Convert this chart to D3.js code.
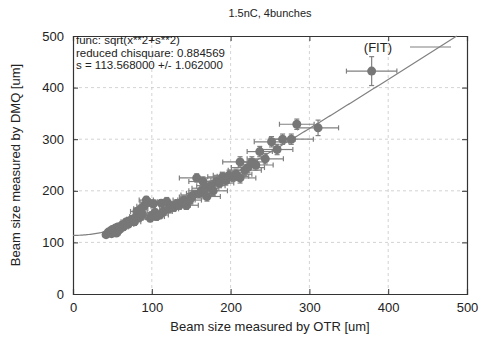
<!DOCTYPE html>
<html><head><meta charset="utf-8">
<script src="https://d3js.org/d3.v7.min.js"></script>
<style>body{margin:0;background:#fff}svg{display:block}text{font-family:"Liberation Sans",Arial,sans-serif;fill:#222}</style>
</head><body><svg id="c" width="481" height="340"></svg>
<script>
const title = "1.5nC, 4bunches";
const xLabel = "Beam size measured by OTR [um]";
const yLabel = "Beam size measured by DMQ [um]";
const statLines = ["func: sqrt(x**2+s**2)", "reduced chisquare: 0.884569", "s = 113.568000 +/- 1.062000"];
const legendLabel = "(FIT)";
const xTicks = [0,100,200,300,400,500];
const yTicks = [0,100,200,300,400,500];
const fitS = 113.568;
const otr    = [42,45,47,49,50,52,54,55,57,58,60,62,64,66,68,70,72,75,78,80,81,84,86,88,90,93,95,98,100,102,104,106,110,112,115,119,122,125,128,132,135,138,141,144,148,150,153,157,160,163,165,168,170,175,178,182,186,190,194,198,203,207,212,212,218,222,227,232,237,244,252,259,266,277,284,311,379];
const dmq    = [115,120,121,117,125,122,128,118,130,124,127,133,130,137,140,135,142,145,140,150,160,148,165,155,170,182,178,147,152,175,158,150,153,176,160,179,165,170,168,175,172,178,182,172,182,188,192,225,195,200,218,205,189,210,200,218,215,227,220,230,228,232,225,256,240,245,256,250,276,262,295,280,300,300,329,322,432];
const otrErr = [4,4,5,4,5,5,5,5,5,5,6,6,6,6,7,7,7,7,8,8,8,8,9,9,9,9,10,9,10,10,10,10,11,11,11,12,12,12,13,13,14,14,14,15,15,15,16,22,16,16,18,17,17,18,18,16,18,19,19,20,20,20,20,22,21,21,16,22,16,23,22,20,16,28,22,26,32];
const dmqErr = [5,5,5,5,5,5,5,5,6,6,6,6,6,6,6,6,6,7,7,7,7,7,7,7,7,7,7,7,7,7,7,7,7,7,8,8,8,8,8,8,8,8,8,8,8,8,9,8,9,9,9,9,9,9,9,9,9,9,9,10,10,10,10,10,10,10,10,10,10,10,10,10,10,10,10,15,28];

const W=481,H=340, m={l:73,r:14,t:36,b:46};
const svg=d3.select("#c");
const x=d3.scaleLinear().domain([0,500]).range([m.l,W-m.r]);
const y=d3.scaleLinear().domain([0,500]).range([H-m.b,m.t]);
const grey="#808080";

// grid
const grid=svg.append("g").attr("stroke","#c8c8c8").attr("stroke-width",0.8).attr("stroke-dasharray","3,3");
xTicks.slice(1,-1).forEach(t=>grid.append("line").attr("x1",x(t)).attr("x2",x(t)).attr("y1",y(0)).attr("y2",y(500)));
yTicks.slice(1,-1).forEach(t=>grid.append("line").attr("x1",x(0)).attr("x2",x(500)).attr("y1",y(t)).attr("y2",y(t)));

// axes
const axB=svg.append("g").attr("transform",`translate(0,${y(0)})`).call(d3.axisBottom(x).tickValues(xTicks).tickSize(-5).tickPadding(9));
const axL=svg.append("g").attr("transform",`translate(${x(0)},0)`).call(d3.axisLeft(y).tickValues(yTicks).tickSize(-5).tickPadding(9));
const axT=svg.append("g").attr("transform",`translate(0,${y(500)})`).call(d3.axisTop(x).tickValues(xTicks).tickSize(-5).tickFormat(""));
const axR=svg.append("g").attr("transform",`translate(${x(500)},0)`).call(d3.axisRight(y).tickValues(yTicks).tickSize(-5).tickFormat(""));
[axB,axL,axT,axR].forEach(a=>{a.select(".domain").attr("stroke","#333").attr("stroke-width",1.2);a.selectAll(".tick line").attr("stroke","#333");a.selectAll("text").attr("font-size",13).attr("fill","#222").attr("font-family","Liberation Sans, Arial, sans-serif");});

// fit curve
const fx=d3.range(0,Math.sqrt(500*500-fitS*fitS),2).concat([Math.sqrt(500*500-fitS*fitS)]);
svg.append("path").datum(fx).attr("fill","none").attr("stroke",grey).attr("stroke-width",1.2)
  .attr("d",d3.line().x(d=>x(d)).y(d=>y(Math.sqrt(d*d+fitS*fitS))));

// error bars + points
const pts=otr.map((v,i)=>({x:v,y:dmq[i],ex:otrErr[i],ey:dmqErr[i]}));
const eb=svg.append("g").attr("stroke",grey).attr("stroke-width",1.2);
const cap=2.5;
pts.forEach(p=>{
  eb.append("line").attr("x1",x(p.x-p.ex)).attr("x2",x(p.x+p.ex)).attr("y1",y(p.y)).attr("y2",y(p.y));
  eb.append("line").attr("x1",x(p.x)).attr("x2",x(p.x)).attr("y1",y(p.y-p.ey)).attr("y2",y(p.y+p.ey));
  eb.append("line").attr("x1",x(p.x-p.ex)).attr("x2",x(p.x-p.ex)).attr("y1",y(p.y)-cap).attr("y2",y(p.y)+cap);
  eb.append("line").attr("x1",x(p.x+p.ex)).attr("x2",x(p.x+p.ex)).attr("y1",y(p.y)-cap).attr("y2",y(p.y)+cap);
  eb.append("line").attr("x1",x(p.x)-cap).attr("x2",x(p.x)+cap).attr("y1",y(p.y-p.ey)).attr("y2",y(p.y-p.ey));
  eb.append("line").attr("x1",x(p.x)-cap).attr("x2",x(p.x)+cap).attr("y1",y(p.y+p.ey)).attr("y2",y(p.y+p.ey));
});
svg.append("g").selectAll("circle").data(pts).join("circle")
  .attr("cx",d=>x(d.x)).attr("cy",d=>y(d.y)).attr("r",4.5).attr("fill","#777");

// stats text
svg.append("g").selectAll("text").data(statLines).join("text")
  .attr("x",x(0)+3).attr("y",(d,i)=>y(500)+8+i*12.5).attr("font-size",11.5).text(d=>d);

// legend
svg.append("text").attr("x",392).attr("y",52).attr("text-anchor","end").attr("font-size",13).text(legendLabel);
svg.append("line").attr("x1",410).attr("x2",451).attr("y1",47).attr("y2",47).attr("stroke",grey).attr("stroke-width",1.2);

// title & labels
svg.append("text").attr("x",(m.l+W-m.r)/2).attr("y",17).attr("text-anchor","middle").attr("font-size",11).text(title);
svg.append("text").attr("x",(m.l+W-m.r)/2).attr("y",331).attr("text-anchor","middle").attr("font-size",13).text(xLabel);
svg.append("text").attr("transform",`translate(20,${(m.t+H-m.b)/2}) rotate(-90)`).attr("text-anchor","middle").attr("font-size",13).text(yLabel);
</script></body></html>
